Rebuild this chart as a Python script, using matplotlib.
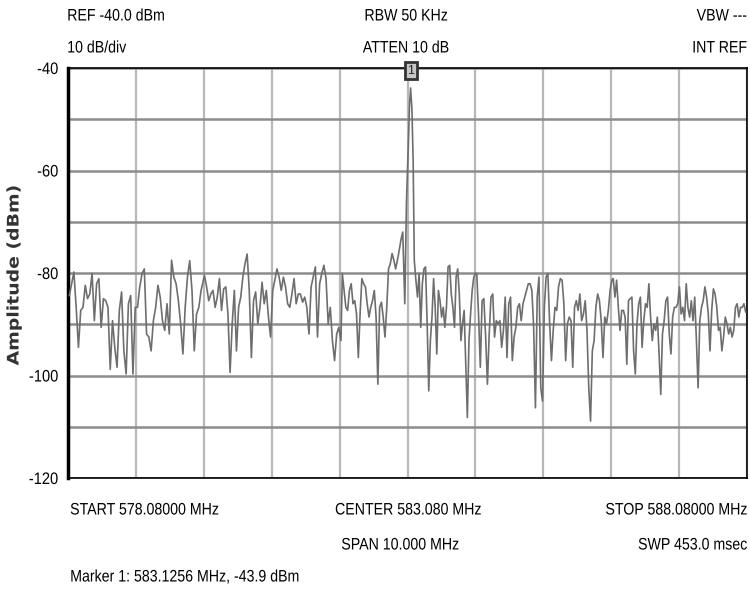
import numpy as np
import matplotlib
matplotlib.use("Agg")
import matplotlib.pyplot as plt
from matplotlib.patheffects import AbstractPathEffect
from matplotlib.transforms import Affine2D

plt.rcParams['font.family'] = ['Liberation Sans', 'DejaVu Sans']


class Squeeze(AbstractPathEffect):
    """Scale a text path along its baseline (narrow/wide lettering)."""

    def __init__(self, sx, anchor='left'):
        super().__init__()
        self.sx = sx
        self.anchor = anchor

    def draw_path(self, renderer, gc, tpath, affine, rgbFace=None):
        ext = tpath.get_extents()
        if self.anchor == 'left':
            px = ext.x0
        elif self.anchor == 'right':
            px = ext.x1
        else:
            px = (ext.x0 + ext.x1) / 2
        t = Affine2D().translate(-px, 0).scale(self.sx, 1).translate(px, 0)
        renderer.draw_path(gc, tpath, t + affine, rgbFace)


# sweep settings
f_start = 578.08
f_stop = 588.08
ref_level = -40.0
bottom_level = -120.0

# trace, read piece by piece across the span (dBm)
seg_a = [-84.4, -82.1, -79.8, -86.7, -94.5, -87.3, -86.7, -82.4, -85.0, -84.1,
         -80.1, -89.3, -82.1, -81.1, -90.6, -85.0, -85.4, -86.7, -98.8, -89.3,
         -94.5, -98.4, -87.3, -83.7, -95.2, -99.7, -86.0, -84.4, -99.7, -86.7,
         -86.7, -82.7, -80.1, -79.2, -91.9, -92.5, -95.2, -89.3, -86.7, -82.4,
         -84.7, -89.3, -91.2, -86.0, -91.9, -77.5, -80.8, -82.1, -85.4, -89.9,
         -95.8, -86.7, -80.8, -77.6, -83.4, -95.2, -88.0, -86.7, -83.4]
seg_b = [-80.5, -82.7, -85.4, -84.1, -83.4, -86.7, -84.7, -81.1, -87.3, -83.1,
         -82.7, -88.0, -99.4, -89.9, -83.4, -95.2, -86.7, -84.7, -80.8, -78.2,
         -76.3, -83.4, -96.5, -85.4, -83.7, -89.9, -86.7, -81.8, -86.0, -83.4,
         -88.6, -92.5, -83.4, -81.4, -79.2, -80.8, -83.4, -80.8, -82.7, -86.0,
         -86.7, -84.1, -81.1, -86.0, -84.1, -84.1, -85.7, -84.7, -86.7, -91.9,
         -82.7, -80.8, -78.8, -92.5, -82.1, -80.1, -78.5, -81.1, -89.9, -86.7,
         -93.2, -97.1, -91.9, -90.6, -93.2]
seg_c = [-80.1, -83.4, -86.7, -87.3, -83.4, -82.1, -86.0, -85.4, -88.0, -96.5,
         -88.0, -81.1, -82.1, -82.7, -86.0, -88.6, -86.7, -85.4, -83.4, -88.6,
         -101.7, -86.7, -85.7, -88.6, -92.5, -86.7, -79.2, -78.2, -76.2, -77.5,
         -79.2, -77.5, -75.6, -73.5, -72.0]
peak_freq = [583.04, 583.065, 583.09, 583.11, 583.1256, 583.145, 583.163]
peak_db = [-86.0, -66.0, -56.0, -47.0, -43.9, -48.0, -58.0]
seg_d = [-77.5, -81.4, -84.7, -80.1, -90.6, -82.1, -79.2, -78.8, -89.9, -103.0,
         -93.2, -88.6, -81.1, -86.7, -95.8, -83.4, -85.4, -88.6, -86.7, -90.6,
         -86.7, -78.8, -78.5, -84.1, -86.7, -90.6, -80.8, -79.2, -84.1, -93.2,
         -89.9, -87.3, -97.8, -108.2, -93.2, -88.0, -83.4, -80.8, -80.1]
seg_e = [-80.1, -88.0, -98.4, -85.4, -85.0, -92.5, -101.7, -91.9, -84.7, -84.1,
         -92.5, -89.3, -89.9, -89.3, -94.5, -91.2, -84.7, -96.5, -86.0, -84.7,
         -97.1, -92.5, -90.6, -86.7, -86.0, -89.3, -86.0, -84.7, -83.4, -82.1,
         -82.1, -83.4, -90.6, -106.3, -84.7, -80.8, -102.4, -105.0, -86.7, -80.8,
         -80.1, -89.9, -97.1, -91.2, -86.7, -87.3, -82.7, -81.1, -81.4, -86.0,
         -97.1, -89.9, -88.6, -89.3, -98.4, -86.7, -85.4, -87.3, -84.1, -89.3,
         -88.0, -85.4, -91.2, -102.4, -108.9, -95.2, -93.2, -86.7, -84.1, -85.4,
         -89.3, -96.5, -88.6, -89.9, -87.3, -83.4, -81.4]
seg_f = [-81.1, -84.7, -81.4, -86.7, -91.2, -87.3, -87.3, -88.6, -97.8, -85.4,
         -85.0, -84.7, -95.2, -99.7, -89.9, -86.0, -84.7, -94.5, -89.3, -86.0,
         -86.7, -82.1, -88.6, -93.2, -89.9, -91.2, -88.6, -95.8, -103.7, -91.9,
         -89.3, -85.4, -84.7, -91.9, -95.8, -88.6, -86.7, -86.7, -86.0, -82.7,
         -88.0, -86.7, -89.3, -82.1, -86.7, -88.6, -85.4, -89.3, -84.7, -93.2,
         -102.4, -89.3, -86.7, -85.4, -82.7, -84.7, -88.0, -95.2, -87.3, -83.1,
         -84.1, -86.7, -91.2, -90.6, -95.2, -92.5, -88.6, -89.9, -91.9, -90.6,
         -92.5, -91.2, -86.7, -86.0, -88.6, -86.7, -86.7, -86.0, -87.6]

# frequency range covered by each piece (MHz)
seg_ranges = [(578.10, 580.04), (580.09, 582.10), (582.12, 583.01),
              (583.18, 584.08), (584.10, 586.09), (586.11, 588.06)]

marker_freq = 583.1256
marker_db = -43.9

freqs = []
levels = []
pieces = [seg_a, seg_b, seg_c, seg_d, seg_e, seg_f]
for i, (seg, (f0, f1)) in enumerate(zip(pieces, seg_ranges)):
    freqs.extend(np.linspace(f0, f1, len(seg)))
    levels.extend(seg)
    if i == 2:
        freqs.extend(peak_freq)
        levels.extend(peak_db)

fig = plt.figure(figsize=(7.5, 5.9), dpi=100)
ax = fig.add_axes([68 / 750, 1 - 478 / 590, 679 / 750, 410 / 590])

ax.plot(freqs, levels, color='#6e6e6e', lw=1.2, zorder=3)

ax.set_xlim(f_start, f_stop)
ax.set_ylim(bottom_level, ref_level)
ax.set_xticks(np.linspace(f_start, f_stop, 11))
ax.set_xticklabels([])
yt = np.arange(-120, -39, 10)
ax.set_yticks(yt)
ax.set_yticklabels([str(v) if v % 20 == 0 else '' for v in yt], fontsize=12)
for lab in ax.get_yticklabels():
    lab.set_path_effects([Squeeze(0.88, 'right')])
ax.tick_params(length=0, pad=7)
ax.grid(axis='y', color='#8c8c8c', lw=1.8, zorder=1)
ax.grid(axis='x', color='#b8b8b8', lw=1.6, zorder=1)
for side in ['top', 'right', 'bottom']:
    ax.spines[side].set_linewidth(1.2)
ax.spines['left'].set_linewidth(2.5)

# marker flag on top edge
ax.text(marker_freq, ref_level - 0.5, '1', ha='center', va='center', fontsize=9,
        color='#222222', clip_on=False, zorder=5,
        bbox=dict(boxstyle='square,pad=0.2', fc='#c8c8c8', ec='#333333', lw=2))

fs = 12
sq = 0.85


def label(x, y, s, ha):
    t = fig.text(x / 750, 1 - y / 590, s, ha=ha, va='center', fontsize=fs)
    t.set_path_effects([Squeeze(sq, {'left': 'left', 'center': 'center', 'right': 'right'}[ha])])


label(67, 16, 'REF -40.0 dBm', 'left')
label(67, 48, '10 dB/div', 'left')
label(406, 16, 'RBW 50 KHz', 'center')
label(406, 48, 'ATTEN 10 dB', 'center')
label(747, 16, 'VBW ---', 'right')
label(747, 48, 'INT REF', 'right')

label(70, 510, 'START 578.08000 MHz', 'left')
label(408, 510, 'CENTER 583.080 MHz', 'center')
label(747, 510, 'STOP 588.08000 MHz', 'right')
label(400, 545, 'SPAN 10.000 MHz', 'center')
label(747, 545, 'SWP 453.0 msec', 'right')
label(70, 577, 'Marker 1: 583.1256 MHz, -43.9 dBm', 'left')

yl = fig.text(14 / 750, 1 - 275 / 590, 'Amplitude (dBm)', rotation=90, ha='center', va='center',
              fontsize=11.5, fontweight='bold', family='DejaVu Sans', color='#333333')
yl.set_path_effects([Squeeze(1.18, 'center')])

fig.savefig('out.png', dpi=100)
